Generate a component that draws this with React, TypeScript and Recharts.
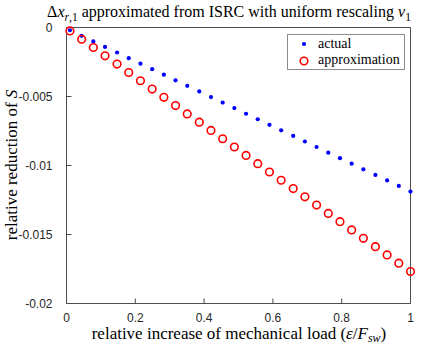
import { ScatterChart, Scatter, XAxis, YAxis, Label } from 'recharts'

// relative increase of mechanical load (x positions, 30 samples)
const loadIncrease = [
  0.01, 0.044, 0.078, 0.112, 0.147, 0.181, 0.215, 0.249, 0.283, 0.317,
  0.351, 0.386, 0.42, 0.454, 0.488, 0.522, 0.556, 0.59, 0.624, 0.659,
  0.693, 0.727, 0.761, 0.795, 0.829, 0.863, 0.898, 0.932, 0.966, 1.0,
]

const actualReduction = [
  -0.0002, -0.0006, -0.00101, -0.00141, -0.00181, -0.00222, -0.00262, -0.00302, -0.00342, -0.00383,
  -0.00423, -0.00463, -0.00504, -0.00544, -0.00584, -0.00625, -0.00665, -0.00705, -0.00745, -0.00786,
  -0.00826, -0.00866, -0.00907, -0.00947, -0.00987, -0.01028, -0.01068, -0.01108, -0.01148, -0.01189,
]

const approxReduction = [
  -0.00025, -0.00085, -0.00145, -0.00205, -0.00265, -0.00326, -0.00386, -0.00446, -0.00506, -0.00566,
  -0.00626, -0.00686, -0.00746, -0.00806, -0.00866, -0.00927, -0.00987, -0.01047, -0.01107, -0.01167,
  -0.01227, -0.01287, -0.01347, -0.01407, -0.01467, -0.01528, -0.01588, -0.01648, -0.01708, -0.01768,
]

const xTicks = [0, 0.2, 0.4, 0.6, 0.8, 1]
const yTicks = [-0.02, -0.015, -0.01, -0.005, 0]

const AXIS = '#4d4d4d'
const TICK_TEXT = '#262626'
const SERIF = '"Liberation Serif", "DejaVu Serif", serif'
const SANS = '"Liberation Sans", Arial, sans-serif'

const actualData = loadIncrease.map((x, i) => ({ x, y: actualReduction[i] }))
const approxData = loadIncrease.map((x, i) => ({ x, y: approxReduction[i] }))

const Dot = ({ cx, cy }: any) => <circle cx={cx} cy={cy} r={2.1} fill="#0000ff" />
const Ring = ({ cx, cy }: any) => (
  <circle cx={cx} cy={cy} r={3.8} fill="none" stroke="#ff0000" strokeWidth={1.6} />
)

const fmt = (v: number) => (v === 0 ? '0' : String(v))
const tickText = { fill: TICK_TEXT, fontSize: 12, fontFamily: SANS }

const LegendBox = () => (
  <div
    style={{
      position: 'absolute',
      left: 287,
      top: 34,
      width: 118,
      height: 36,
      border: '1px solid #8c8c8c',
      background: '#fff',
      fontFamily: SERIF,
      fontSize: 14,
      color: '#000',
      boxSizing: 'border-box',
    }}
  >
    <svg width={20} height={34} style={{ position: 'absolute', left: 6, top: 0 }}>
      <circle cx={10} cy={9} r={2.1} fill="#0000ff" />
      <circle cx={10} cy={26} r={3.8} fill="none" stroke="#ff0000" strokeWidth={1.6} />
    </svg>
    <div style={{ position: 'absolute', left: 30, top: 0, lineHeight: '17px' }}>actual</div>
    <div style={{ position: 'absolute', left: 30, top: 16, lineHeight: '17px' }}>approximation</div>
  </div>
)

const Title = () => (
  <svg width={436} height={30} style={{ position: 'absolute', left: 0, top: 0, pointerEvents: 'none' }}>
    <text x={229} y={17} textAnchor="middle" fontFamily={SERIF} fontSize={16} fill="#000">
      <tspan>Δ</tspan>
      <tspan fontStyle="italic">x</tspan>
      <tspan fontSize={11.5} dy={4} fontStyle="italic">r</tspan>
      <tspan fontSize={11.5}>,1</tspan>
      <tspan dy={-4}> approximated from ISRC with uniform rescaling </tspan>
      <tspan fontStyle="italic">ν</tspan>
      <tspan fontSize={11.5} dy={4}>1</tspan>
    </text>
  </svg>
)

const XTitle = () => (
  <text x={239} y={339} textAnchor="middle" fontFamily={SERIF} fontSize={17} fill="#000">
    <tspan>relative increase of mechanical load (</tspan>
    <tspan fontStyle="italic">ε</tspan>
    <tspan>/</tspan>
    <tspan fontStyle="italic">F</tspan>
    <tspan fontSize={12} dy={3} fontStyle="italic">sw</tspan>
    <tspan dy={-3}>)</tspan>
  </text>
)

const YTitle = () => (
  <text
    x={0}
    y={0}
    transform="translate(17,165) rotate(-90)"
    textAnchor="middle"
    fontFamily={SERIF}
    fontSize={17}
    fill="#000"
  >
    <tspan>relative reduction of </tspan>
    <tspan fontStyle="italic">S</tspan>
  </text>
)

export default function App() {
  return (
    <div style={{ position: 'absolute', left: 0, top: 0, width: 436, height: 350, background: '#fff' }}>
      {/* half pixel offsets keep the 1px box lines crisp */}
      <ScatterChart
        width={436}
        height={350}
        margin={{ top: 26.5, right: 24.5, bottom: 0, left: 0 }}
      >
        <XAxis
          type="number"
          dataKey="x"
          domain={[0, 1]}
          ticks={xTicks}
          tickFormatter={fmt}
          height={46.5}
          stroke={AXIS}
          tickSize={-5}
          tickMargin={15}
          tick={tickText}
        >
          <Label content={<XTitle />} />
        </XAxis>
        <XAxis
          xAxisId={1}
          orientation="top"
          type="number"
          dataKey="x"
          domain={[0, 1]}
          ticks={xTicks}
          height={1}
          stroke={AXIS}
          tickSize={-5}
          tick={false}
        />
        <YAxis
          type="number"
          dataKey="y"
          domain={[-0.02, 0]}
          ticks={yTicks}
          tickFormatter={fmt}
          width={66.5}
          stroke={AXIS}
          tickSize={-5}
          tickMargin={19}
          tick={tickText}
        >
          <Label content={<YTitle />} />
        </YAxis>
        <YAxis
          yAxisId={1}
          orientation="right"
          type="number"
          dataKey="y"
          domain={[-0.02, 0]}
          ticks={yTicks}
          width={1}
          stroke={AXIS}
          tickSize={-5}
          tick={false}
        />
        <Scatter name="actual" data={actualData} shape={<Dot />} isAnimationActive={false} />
        <Scatter name="approximation" data={approxData} shape={<Ring />} isAnimationActive={false} />
      </ScatterChart>
      <LegendBox />
      <Title />
    </div>
  )
}
